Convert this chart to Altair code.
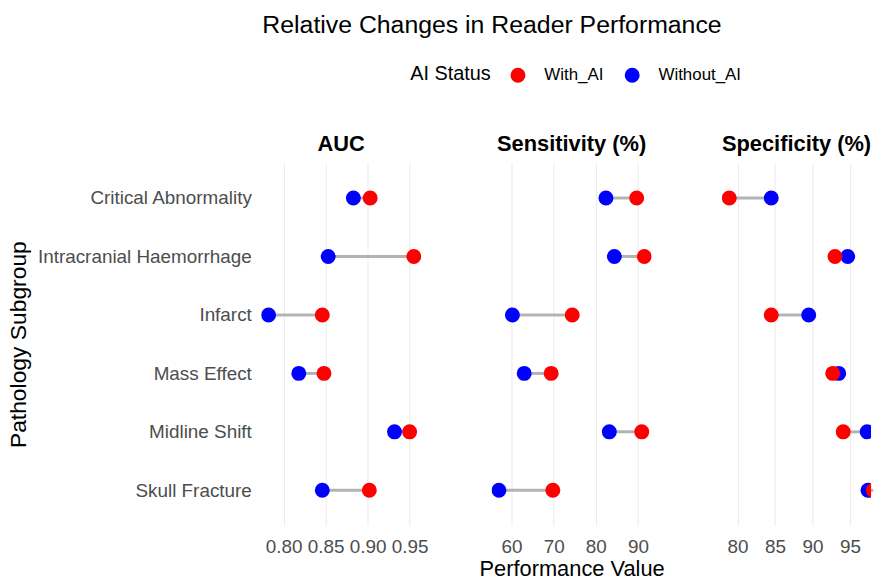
import altair as alt
import pandas as pd

subgroups = ["Critical Abnormality", "Intracranial Haemorrhage", "Infarct",
             "Mass Effect", "Midline Shift", "Skull Fracture"]
statuses = ["With_AI", "Without_AI"]
status_colors = ["#ff0000", "#0000ff"]
metrics = ["AUC", "Sensitivity (%)", "Specificity (%)"]

auc_with = [0.903, 0.955, 0.846, 0.848, 0.950, 0.902]
auc_without = [0.883, 0.853, 0.782, 0.818, 0.932, 0.846]
sens_with = [89.7, 91.5, 74.4, 69.4, 90.9, 69.8]
sens_without = [82.4, 84.4, 60.2, 63.0, 83.2, 57.0]
spec_with = [78.9, 93.0, 84.5, 92.7, 94.1, 98.1]
spec_without = [84.5, 94.7, 89.5, 93.5, 97.3, 97.4]

auc_ticks = [0.80, 0.85, 0.90, 0.95]
sens_ticks = [60, 70, 80, 90]
spec_ticks = [80, 85, 90, 95]

values = {
    "AUC": (auc_with, auc_without),
    "Sensitivity (%)": (sens_with, sens_without),
    "Specificity (%)": (spec_with, spec_without),
}

FONT = "Liberation Sans"


def panel(metric, domain, ticks, fmt, width, show_y, x_title):
    w_vals, wo_vals = values[metric]
    wide = pd.DataFrame({"subgroup": subgroups, "with": w_vals, "without": wo_vals})
    long = pd.DataFrame({
        "subgroup": subgroups + subgroups,
        "status": ["Without_AI"] * 6 + ["With_AI"] * 6,
        "value": wo_vals + w_vals,
    })
    xscale = alt.Scale(domain=domain, nice=False, zero=False)
    xaxis = alt.Axis(values=ticks, format=fmt, grid=True, gridColor="#ebebeb",
                     domain=False, ticks=False, labelFontSize=19,
                     labelColor="#4d4d4d", labelPadding=12, labelFont=FONT,
                     title=x_title if x_title else None, titleFontSize=22,
                     titleFontWeight="normal", titleFont=FONT, titleColor="#000000",
                     titlePadding=2)
    if show_y:
        yaxis = alt.Axis(title="Pathology Subgroup", labelFontSize=19,
                         labelColor="#4d4d4d", labelFont=FONT, labelPadding=10,
                         labelLimit=400,
                         domain=False, ticks=False, grid=False, titleFontSize=23,
                         titleFontWeight="normal", titleFont=FONT,
                         titleColor="#000000", titleX=-232, titleAngle=270,
                         titleBaseline="bottom", titleAlign="center")
    else:
        yaxis = None
    y = alt.Y("subgroup:N", sort=subgroups,
              scale=alt.Scale(type="point", padding=0.6), axis=yaxis)
    rule = alt.Chart(wide).mark_rule(color="#b3b3b3", strokeWidth=3).encode(
        x=alt.X("with:Q", scale=xscale, axis=xaxis),
        x2="without:Q",
        y=y,
    )
    pts = alt.Chart(long).mark_circle(size=227, opacity=1, clip=True).encode(
        x=alt.X("value:Q", scale=xscale, axis=xaxis),
        y=y,
        color=alt.Color("status:N",
                        scale=alt.Scale(domain=statuses, range=status_colors),
                        legend=alt.Legend(title="AI Status", orient="none",
                                          legendX=150, legendY=-97,
                                          direction="horizontal",
                                          titleOrient="left",
                                          titleFontSize=20,
                                          titleFontWeight="normal",
                                          titleColor="#000000",
                                          titlePadding=18,
                                          titleBaseline="middle",
                                          titleLimit=200,
                                          labelColor="#000000",
                                          titleFont=FONT, labelFont=FONT,
                                          labelFontSize=17, symbolSize=227,
                                          symbolStrokeWidth=0,
                                          columnPadding=20, labelOffset=18)),
    )
    return alt.layer(rule, pts).properties(
        width=width, height=365,
        title=alt.TitleParams(metric, fontSize=22, fontWeight="bold", font=FONT,
                              color="#000000", anchor="middle", offset=7),
    )


p1 = panel("AUC", [0.7733, 0.9637], auc_ticks, ".2f", 161, True, None)
p2 = panel("Sensitivity (%)", [55.275, 93.225], sens_ticks, "d", 161, False,
           "Performance Value")
p3 = panel("Specificity (%)", [77.94, 97.81], spec_ticks, "d", 150, False, None)

chart = alt.hconcat(p1, p2, p3, spacing=71, bounds="flush").resolve_scale(
    x="independent", y="shared", color="shared"
).properties(
    padding={"top": 3, "left": 0, "right": 0, "bottom": 0},
    background="white",
    title=alt.TitleParams("Relative Changes in Reader Performance", fontSize=25,
                          fontWeight="normal", font=FONT, color="#000000",
                          anchor="middle", offset=29, dx=51),
).configure_view(stroke=None)

chart.save("out.html", embed_options={"renderer": "svg", "actions": False})
